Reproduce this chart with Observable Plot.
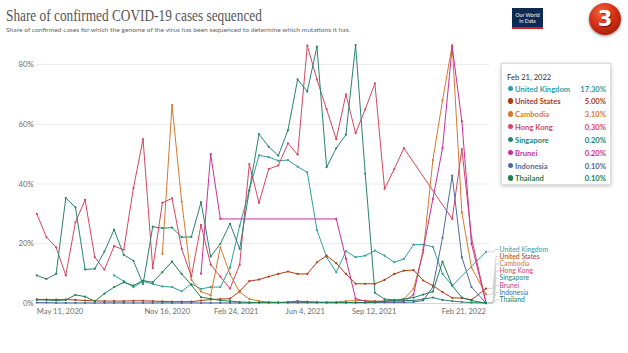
<!DOCTYPE html>
<html>
<head>
<meta charset="utf-8">
<script src="https://cdn.jsdelivr.net/npm/d3@7"></script>
<script src="https://cdn.jsdelivr.net/npm/@observablehq/plot@0.6"></script>
<style>
  html, body { margin: 0; padding: 0; background: #fff; }
  #wrap { position: relative; width: 628px; height: 353px; overflow: hidden; font-family: Lato, "Noto Sans", sans-serif; }
  #header { position: absolute; left: 0; top: 0; width: 628px; height: 36px; }
  #title { position: absolute; left: 6px; top: 8px; font-family: "Liberation Serif", "DejaVu Serif", serif; font-size: 16px; color: #555; white-space: nowrap; transform-origin: 0 0; line-height: 1; }
  #subtitle { position: absolute; left: 6px; top: 26.5px; font-size: 6px; color: #666; white-space: nowrap; line-height: 1; transform-origin: 0 0; }
  #logo { position: absolute; left: 512px; top: 8px; width: 31px; height: 21px; background: #0f2a52; border-bottom: 2px solid #ce261e; color: #fff; font-size: 5.2px; line-height: 6px; text-align: center; box-sizing: border-box; padding-top: 4px; }
  #badge { position: absolute; left: 589px; top: 3px; width: 32px; height: 32px; border-radius: 50%;
    background: radial-gradient(circle at 40% 30%, #f2643f 0%, #d52f14 45%, #8d1204 100%);
    box-shadow: 0 1px 3px rgba(0,0,0,0.45); color: #fff; font-family: "DejaVu Sans", sans-serif; font-weight: bold; font-size: 21px; line-height: 32px; text-align: center; text-shadow: 1px 1px 1px rgba(0,0,0,0.5); }
  #chart { position: absolute; left: 0; top: 36px; }
  #tip { position: absolute; left: 501px; top: 63px; width: 110px; height: 122px; background: #fff; border: 1px solid #ddd; box-shadow: 0 1px 4px rgba(0,0,0,0.25); box-sizing: border-box; font-size: 7.6px; }
  #tip .date { position: absolute; left: 5px; top: 8px; color: #333; }
  #tip .row { position: absolute; left: 0; width: 104px; height: 10px; font-weight: bold; }
  #tip .dot { position: absolute; left: 6px; top: 2px; width: 5.4px; height: 5.4px; border-radius: 50%; }
  #tip .name { position: absolute; left: 13px; top: 0; }
  #tip .val { position: absolute; right: 0; top: 0; }
</style>
</head>
<body>
<div id="wrap">
  <div id="header">
    <div id="title">Share of confirmed COVID-19 cases sequenced</div>
    <div id="subtitle">Share of confirmed cases for which the genome of the virus has been sequenced to determine which mutations it has.</div>
    <div id="logo">Our World<br>in Data</div>
    <div id="badge">3</div>
  </div>
  <div id="chart"></div>
  <div id="tip"></div>
</div>
<script>
// ---- data ----
const startDate = "2020-05-11";
const weeks = [0,2,4,6,8,10,12,14,16,18,20,22,24,26,28,30,32,34,36,38,40,42,44,46,48,50,52,54,56,58,60,62,64,66,68,70,72,74,76,78,80,82,84,86,88,90,93];

const countries = ["United Kingdom","United States","Cambodia","Hong Kong","Singapore","Brunei","Indonesia","Thailand"];
const colors = ["#2e9ea3","#b13a12","#d47a30","#d3475f","#2a8270","#c8309a","#4c6a9c","#1f7f4f"];

const unitedKingdom = [null,null,null,null,null,null,null,null,9.4,7.5,5.5,7.4,6.6,5.7,5.5,4.1,6.6,4.9,5.5,5.5,12,26,38,49.6,49.0,47.8,48.0,45.8,43.9,24.6,15.5,10.5,17.5,15.5,16.0,17.7,16.0,13.8,14.9,19.7,19.7,19.0,9.9,6.0,null,null,17.3];
const unitedStates = [1.4,1.3,1.3,1.3,1.2,1.0,0.9,0.8,0.8,0.8,0.9,0.9,0.8,0.7,0.6,0.6,0.6,1.0,1.3,1.5,1.6,4.1,7.5,8.0,9.0,9.9,10.7,9.9,9.9,13.8,16.0,13.5,9.9,6.6,6.6,6.6,7.9,9.9,11.0,11.2,7.7,6.0,3.8,1.9,1.8,1.2,5.0];
const cambodia = [null,null,null,null,null,null,null,null,null,null,null,null,null,16.6,66.4,34.1,7.9,4.0,2.7,18.8,9.9,3.8,1.5,0.8,0.5,0.4,0.3,0.3,0.3,0.3,0.5,0.5,0.8,1.0,1.0,0.8,0.8,1.0,1.5,5.0,17.0,48.0,68.0,86.5,30.5,12.0,3.1];
const hongKong = [30.0,22.2,18.8,9.4,27.2,34.7,15.5,11.3,19.2,18.0,38.6,55.0,11.8,33.7,35.2,18.3,9.0,26.3,13.0,9.0,5.0,13.0,46.7,33.7,45.0,46.2,53.6,49.8,86.3,75.0,65.0,55.0,70.0,57.0,65.0,73.7,38.4,45.0,52.0,null,null,null,null,28.3,51.7,22.0,0.3];
const singapore = [9.4,8.2,9.9,35.3,32.2,11.4,11.6,17.4,24.7,16.3,14.3,6.5,25.7,25.2,25.4,22.2,22.3,33.9,15.7,20.0,26.7,18.3,37.8,56.7,52.5,49.5,58.0,75.0,71.0,86.0,45.6,52.0,56.5,86.5,43.4,3.6,1.5,1.2,1.0,1.0,1.5,2.0,1.2,0.8,0.5,0.3,0.2];
const brunei = [null,null,null,null,null,null,null,null,null,null,null,null,null,null,null,null,null,10.0,50.0,28.3,null,null,null,null,null,null,null,null,null,null,null,28.3,15.0,1.6,0.8,0.6,0.5,0.5,0.6,3.0,18.0,35.0,52.0,86.0,61.0,20.0,0.2];
const indonesia = [0.3,0.3,0.2,0.2,0.2,0.2,0.2,0.2,0.2,0.2,0.2,0.2,0.2,0.2,0.2,0.2,0.2,0.2,0.2,0.2,0.2,0.2,0.2,0.3,0.3,0.3,0.3,0.3,0.3,0.3,0.3,0.3,0.3,0.3,0.3,0.3,0.4,0.4,0.4,0.5,1.0,5.5,22.0,42.8,15.5,5.5,0.1];
const thailand = [1.2,1.2,1.0,1.2,2.9,2.3,0.8,3.3,5.5,7.1,6.0,7.7,7.1,10.5,14.0,9.9,6.2,2.1,1.6,1.0,0.8,0.5,0.4,0.3,0.3,0.3,0.5,0.8,0.6,0.5,0.3,0.3,0.3,0.3,0.3,0.5,0.8,1.0,1.5,2.0,3.0,4.0,14.0,6.0,2.0,1.0,0.1];

const yTicks = [0, 20, 40, 60, 80];
const xTickDates = ["2020-05-11","2020-11-16","2021-02-24","2021-06-04","2021-09-12","2022-02-21"];
const xTickLabels = ["May 11, 2020","Nov 16, 2020","Feb 24, 2021","Jun 4, 2021","Sep 12, 2021","Feb 21, 2022"];

const tipDate = "Feb 21, 2022";
const tipValues = ["17.30%","5.00%","3.10%","0.30%","0.20%","0.20%","0.10%","0.10%"];

// ---- build table ----
const seriesList = [unitedKingdom, unitedStates, cambodia, hongKong, singapore, brunei, indonesia, thailand];
const t0 = new Date(startDate + "T00:00:00Z");
const dates = weeks.map(w => d3.utcDay.offset(t0, w * 7));
const rows = [];
seriesList.forEach((vals, i) => vals.forEach((v, k) => { if (v != null) rows.push({country: countries[i], date: dates[k], value: v}); }));

const endDate = dates[dates.length - 1];
const ends = countries.map((c, i) => ({country: c, idx: i, value: seriesList[i][seriesList[i].length - 1]}));

// label placement (collision avoidance, value units)
const svgTop = 36;
const y0px = 303 - svgTop, y80px = 64 - svgTop;
const pxPerUnit = (y0px - y80px) / 80;
const gap = 7.2 / pxPerUnit, minV = 3.6 / pxPerUnit;
const sorted = ends.slice().sort((a, b) => (a.value - b.value) || (b.idx - a.idx));
let prev = -Infinity;
sorted.forEach(e => { e.labelV = Math.max(e.value, minV, prev + gap); prev = e.labelV; });

const xRange = [36.3, 485.5];
const xs = d3.scaleUtc().domain([t0, endDate]).range(xRange);
const at = px => xs.invert(xs(endDate) + px);
const connectors = [];
ends.forEach(e => {
  connectors.push({country: e.country, date: at(2), v: e.value});
  connectors.push({country: e.country, date: at(7), v: e.value});
  connectors.push({country: e.country, date: at(10), v: e.labelV});
  connectors.push({country: e.country, date: at(12.5), v: e.labelV});
});

const tickObjs = xTickDates.map((d, i) => ({date: new Date(d + "T00:00:00Z"), label: xTickLabels[i]}));

const chart = Plot.plot({
  width: 628, height: 317,
  marginLeft: 0, marginRight: 0, marginTop: 0, marginBottom: 0,
  style: {fontFamily: "Lato, sans-serif", background: "transparent", overflow: "visible"},
  x: {type: "utc", domain: [t0, endDate], range: xRange, axis: null},
  y: {domain: [0, 80], range: [y0px, y80px], axis: null},
  color: {domain: countries, range: colors},
  marks: [
    Plot.ruleY(yTicks.slice(1), {x1: () => t0, x2: () => at(4), stroke: "#e4e4e4", strokeWidth: 0.8}),
    Plot.ruleY([0], {x1: () => t0, x2: () => endDate, stroke: "#c8c8c8", strokeWidth: 0.8}),
    Plot.text(yTicks, {x: () => t0, y: d => d, text: d => d + "%", textAnchor: "end", dx: -3, fill: "#6e6e6e", fontSize: 7.8}),
    Plot.text(tickObjs.slice(0, 1), {x: "date", y: () => 0, text: "label", textAnchor: "start", dy: 8.5, fill: "#6e6e6e", fontSize: 7.6}),
    Plot.text(tickObjs.slice(1, -1), {x: "date", y: () => 0, text: "label", textAnchor: "middle", dy: 8.5, fill: "#6e6e6e", fontSize: 7.6}),
    Plot.text(tickObjs.slice(-1), {x: "date", y: () => 0, text: "label", textAnchor: "end", dy: 8.5, fill: "#6e6e6e", fontSize: 7.6}),
    Plot.line(connectors, {x: "date", y: "v", z: "country", stroke: "#c4c4c4", strokeWidth: 0.7}),
    Plot.line(rows, {x: "date", y: "value", z: "country", stroke: "country", strokeWidth: 1, strokeLinejoin: "round"}),
    Plot.dot(rows, {x: "date", y: "value", fill: "country", r: 1.1}),
    Plot.text(ends, {x: () => endDate, y: "labelV", text: "country", fill: "country", textAnchor: "start", dx: 13.5, fontSize: 6.8})
  ]
});
document.getElementById("chart").appendChild(chart);

// fit the title and subtitle widths
const title = document.getElementById("title");
title.style.transform = `scaleX(${(256 / title.getBoundingClientRect().width).toFixed(3)})`;
const sub = document.getElementById("subtitle");
sub.style.transform = `scaleX(${(344 / sub.getBoundingClientRect().width).toFixed(3)})`;

// tooltip
const tip = document.getElementById("tip");
tip.innerHTML = `<div class="date">${tipDate}</div>` + countries.map((c, i) =>
  `<div class="row" style="top:${19.5 + i * 12.85}px;color:${colors[i]}"><span class="dot" style="background:${colors[i]}"></span><span class="name">${c}</span><span class="val">${tipValues[i]}</span></div>`
).join("");
</script>
</body>
</html>
